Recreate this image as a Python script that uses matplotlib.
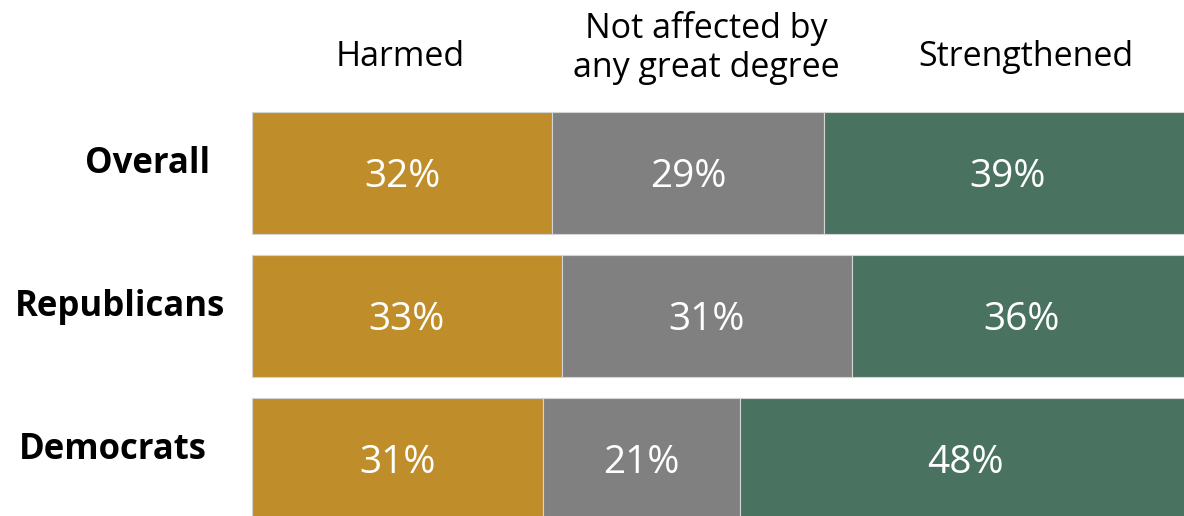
import numpy as np
import matplotlib.pyplot as plt

groups = ['Overall', 'Republicans', 'Democrats']
harmed = [32, 33, 31]
not_affected = [29, 31, 21]
strengthened = [39, 36, 48]
headers = ['Harmed', 'Not affected by\nany great degree', 'Strengthened']

colors = ['#C08D2B', '#808080', '#4A7260']

plt.rcParams['font.family'] = ['Open Sans', 'DejaVu Sans']

fig = plt.figure(figsize=(11.84, 5.16), dpi=100)
ax = fig.add_axes([0, 0, 1, 1])

scale = 9.38  # px per percent
ax.set_xlim(-252 / scale, (1184 - 252) / scale)
ax.set_ylim((516 - 173) / 143, -173 / 143)
ax.axis('off')

y = np.arange(len(groups))
left = np.zeros(len(groups))
for vals, c in zip([harmed, not_affected, strengthened], colors):
    vals = np.array(vals)
    ax.barh(y, vals, left=left, height=0.853, color=c, edgecolor='#d4d4d4', linewidth=0.8)
    for yi, l, v in zip(y, left, vals):
        ax.text(l + v / 2, yi + 0.03, f'{v}%', color='white', fontsize=28,
                ha='center', va='center')
    left += vals

# row labels (pixel x centres)
label_x = [148, 120, 113]
for yi, g, px in zip(y, groups, label_x):
    ax.text((px - 252) / scale, yi - 0.06, g, fontsize=25, fontweight='bold',
            ha='center', va='center')

# column headers (pixel x / y centres)
head_x = [400, 706, 1026]
head_y = [57, 48, 57]
for h, px, py in zip(headers, head_x, head_y):
    ax.text((px - 252) / scale, (py - 173) / 143, h, fontsize=24.5,
            ha='center', va='center', linespacing=1.2)

fig.savefig('out.png', dpi=100)
